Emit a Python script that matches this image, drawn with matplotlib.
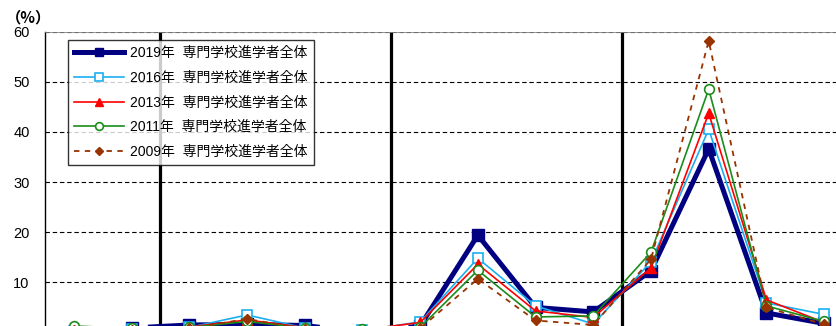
import matplotlib
matplotlib.use("Agg")
import matplotlib.pyplot as plt
import numpy as np

plt.rcParams['font.family'] = ['Liberation Sans', 'Noto Sans CJK JP', 'DejaVu Sans']

# ---- data ----
categories = list(range(14))
group_sizes = [2, 4, 4, 4]
series_labels = ["2019年  専門学校進学者全体", "2016年  専門学校進学者全体",
                 "2013年  専門学校進学者全体", "2011年  専門学校進学者全体",
                 "2009年  専門学校進学者全体"]
y2019 = [0.0, 0.9, 1.5, 1.6, 1.4, 0.0, 1.3, 19.4, 5.0, 4.1, 12.3, 36.6, 3.9, 1.8]
y2016 = [0.2, 0.6, 1.0, 3.5, 0.9, 0.4, 2.1, 14.8, 5.3, 1.7, 14.1, 40.5, 5.9, 3.6]
y2013 = [0.3, 0.7, 1.1, 2.5, 1.0, 0.5, 2.0, 13.6, 4.3, 3.0, 12.9, 43.7, 6.5, 2.0]
y2011 = [1.3, 0.8, 1.0, 2.2, 0.9, 0.75, 1.0, 12.4, 3.1, 3.3, 16.0, 48.5, 5.3, 2.2]
y2009 = [0.4, 0.5, 0.8, 2.7, 0.7, 0.3, 0.8, 10.7, 2.4, 1.5, 14.6, 58.1, 5.0, 1.6]
yticks = [10, 20, 30, 40, 50, 60]

W, H = 837, 326
fig = plt.figure(figsize=(W / 100, H / 100), dpi=100)
ax = fig.add_axes([45 / W, -6.5 / H, 808 / W, 301 / H])

x = np.arange(len(categories))
styles = [
    dict(color='#000080', lw=3.6, marker='s', ms=8, mfc='#000080', mec='#000080', ls='-'),
    dict(color='#1AAFF0', lw=1.2, marker='s', ms=7, mfc='white', mec='#1AAFF0', mew=1.2, ls='-'),
    dict(color='#FF0000', lw=1.2, marker='^', ms=7.5, mfc='#FF0000', mec='#FF0000', ls='-'),
    dict(color='#1A8C1A', lw=1.2, marker='o', ms=7, mfc='white', mec='#1A8C1A', mew=1.2, ls='-'),
    dict(color='#993300', lw=1.3, marker='D', ms=5.5, mfc='#993300', mec='#993300', ls=(0, (3, 3))),
]
for ys, lab, st in zip([y2019, y2016, y2013, y2011, y2009], series_labels, styles):
    ax.plot(x, ys, label=lab, zorder=3, **st)

ax.set_xlim(-0.5, len(categories) - 0.5)
ax.set_ylim(0, 60)
ax.set_yticks(yticks)
ax.set_xticks([])
ax.tick_params(axis='y', length=0, pad=11, labelsize=10.5)
for yv in yticks:
    ax.axhline(yv, color='black', lw=0.8, ls=(0, (4, 2.5)), zorder=1)

# group separators
bounds = np.cumsum(group_sizes)[:-1] - 0.5
for b in bounds:
    ax.axvline(b, color='black', lw=2.3, zorder=2)

for s in ['right', 'bottom']:
    ax.spines[s].set_visible(False)
ax.spines['left'].set_linewidth(1.0)
ax.spines['top'].set_color('#888888')
ax.spines['top'].set_linewidth(0.6)

fig.text(6 / W, 1 - 17 / H, '（%）', fontsize=11, fontweight='bold', va='center', ha='left',
         family=['Noto Sans CJK JP', 'DejaVu Sans'])

leg = ax.legend(loc='upper left', bbox_to_anchor=(68 / W, 1 - 39.5 / H),
                bbox_transform=fig.transFigure, borderaxespad=0,
                prop={'family': ['Liberation Sans', 'Noto Sans CJK JP'], 'size': 10},
                frameon=True, fancybox=False, shadow=False, numpoints=1,
                handlelength=3.6, handletextpad=0.4, labelspacing=0.78,
                borderpad=0.45, markerscale=0.8)
leg.get_frame().set_edgecolor('black')
leg.get_frame().set_linewidth(1.0)
leg.set_zorder(5)

fig.savefig('out.png', dpi=100)
